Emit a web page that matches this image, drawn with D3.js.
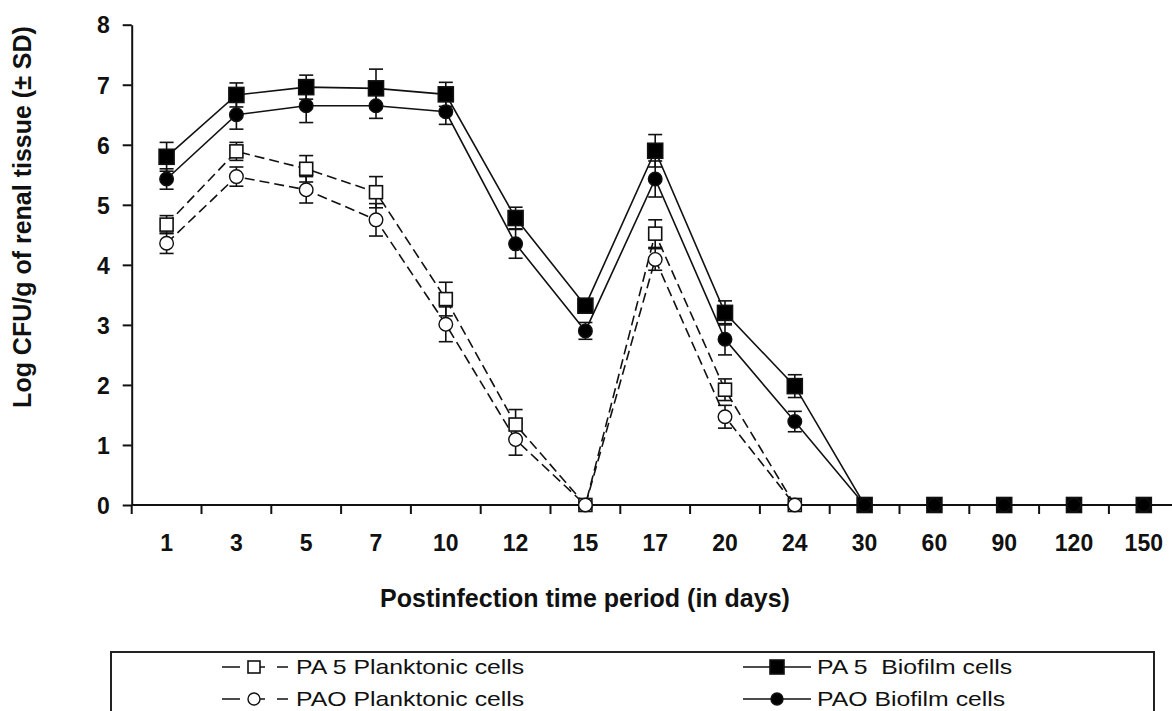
<!DOCTYPE html>
<html>
<head>
<meta charset="utf-8">
<script src="https://cdn.jsdelivr.net/npm/d3@7"></script>
<style>
  body { margin: 0; background: #fff; }
  svg { display: block; font-family: "Liberation Sans", Arial, sans-serif; }
</style>
</head>
<body>
<script>
// dias post-infeccion (categorias del eje x)
var days = ["1", "3", "5", "7", "10", "12", "15", "17", "20", "24", "30", "60", "90", "120", "150"]

// Log CFU/g y desviacion estandar
var pa5Bio     = [5.80, 6.83, 6.96, 6.94, 6.84, 4.78, 3.32, 5.90, 3.20, 1.98, 0, 0, 0, 0, 0]
var pa5BioSD   = [0.24, 0.20, 0.20, 0.32, 0.20, 0.18, 0.10, 0.27, 0.20, 0.19, 0, 0, 0, 0, 0]
var paoBio     = [5.43, 6.50, 6.65, 6.65, 6.55, 4.35, 2.90, 5.43, 2.76, 1.39, 0, 0, 0, 0, 0]
var paoBioSD   = [0.17, 0.24, 0.28, 0.21, 0.21, 0.24, 0.14, 0.30, 0.26, 0.17, 0, 0, 0, 0, 0]
var pa5Plank   = [4.67, 5.89, 5.60, 5.21, 3.43, 1.34, 0, 4.52, 1.92, 0, 0, 0, 0, 0, 0]
var pa5PlankSD = [0.15, 0.15, 0.22, 0.26, 0.28, 0.25, 0, 0.23, 0.18, 0, 0, 0, 0, 0, 0]
var paoPlank   = [4.36, 5.47, 5.25, 4.75, 3.01, 1.09, 0, 4.09, 1.47, 0, 0, 0, 0, 0, 0]
var paoPlankSD = [0.17, 0.16, 0.22, 0.27, 0.29, 0.26, 0, 0.18, 0.19, 0, 0, 0, 0, 0, 0]

var yTicks = [0, 1, 2, 3, 4, 5, 6, 7, 8]
var xTitle = "Postinfection time period (in days)"
var yTitle = "Log CFU/g of renal tissue (\u00b1 SD)"

// series: primero las planctonicas para que los marcadores rellenos queden encima
var series = [
  {name: "PA 5 Planktonic cells", vals: pa5Plank, sd: pa5PlankSD, shape: "square", fill: "#fff", dash: "10,5"},
  {name: "PAO Planktonic cells",  vals: paoPlank, sd: paoPlankSD, shape: "circle", fill: "#fff", dash: "10,5"},
  {name: "PA 5  Biofilm cells",   vals: pa5Bio,   sd: pa5BioSD,   shape: "square", fill: "#000", dash: null},
  {name: "PAO Biofilm cells",     vals: paoBio,   sd: paoBioSD,   shape: "circle", fill: "#000", dash: null}
]

var W = 1172, H = 711
var ink = "#111"

var svg = d3.select("body").append("svg")
    .attr("width", W)
    .attr("height", H)

// ESCALAS
var x = d3.scaleBand()
    .domain(days)
    .range([131.7, 131.7 + 15 * 69.8])
    .padding(0)

var y = d3.scaleLinear()
    .domain([0, 8])
    .range([505, 24.7])

// EJE Y
var yAxis = svg.append("g")
    .attr("transform", "translate(131.7,0)")
    .call(d3.axisLeft(y).tickValues(yTicks).tickFormat(d3.format("d"))
        .tickSize(9).tickSizeOuter(0).tickPadding(13))
yAxis.select(".domain").attr("stroke", ink).attr("stroke-width", 2)
yAxis.selectAll(".tick line").attr("stroke", ink).attr("stroke-width", 2)
yAxis.selectAll(".tick text")
    .attr("fill", ink)
    .style("font-size", "23px")
    .style("font-weight", "bold")
    .attr("dy", "0.36em")

// EJE X: linea y marcas en los limites de cada categoria
var xAxis = svg.append("g").attr("transform", "translate(0," + y(0) + ")")
xAxis.append("line")
    .attr("x1", x.range()[0]).attr("x2", x.range()[1])
    .attr("stroke", ink).attr("stroke-width", 2)
xAxis.selectAll("line.tk")
    .data(days.concat(["end"]))
    .enter()
    .append("line")
    .attr("class", "tk")
    .attr("x1", d => d == "end" ? x.range()[1] : x(d))
    .attr("x2", d => d == "end" ? x.range()[1] : x(d))
    .attr("y1", 0).attr("y2", 9)
    .attr("stroke", ink).attr("stroke-width", 2)
xAxis.selectAll("text")
    .data(days)
    .enter()
    .append("text")
    .attr("x", d => x(d) + x.bandwidth() / 2)
    .attr("y", 46)
    .attr("text-anchor", "middle")
    .attr("fill", ink)
    .style("font-size", "23px")
    .style("font-weight", "bold")
    .text(d => d)

// TITULOS DE LOS EJES
svg.append("text")
    .attr("x", 585)
    .attr("y", 607)
    .attr("text-anchor", "middle")
    .attr("fill", ink)
    .style("font-size", "25px")
    .style("font-weight", "bold")
    .text(xTitle)

svg.append("text")
    .attr("transform", "translate(31,217) rotate(-90)")
    .attr("text-anchor", "middle")
    .attr("fill", ink)
    .style("font-size", "25px")
    .style("font-weight", "bold")
    .text(yTitle)

var cx = (d, i) => x(days[i]) + x.bandwidth() / 2

// 1. BARRAS DE ERROR
series.forEach(function (s) {
  var g = svg.append("g").attr("stroke", ink).attr("stroke-width", 1.6)
  var pts = s.vals.map((v, i) => ({v: v, sd: s.sd[i], i: i})).filter(p => p.sd > 0)
  g.selectAll("line.v").data(pts).enter().append("line")
      .attr("x1", p => cx(p, p.i)).attr("x2", p => cx(p, p.i))
      .attr("y1", p => y(p.v - p.sd)).attr("y2", p => y(p.v + p.sd))
  g.selectAll("line.top").data(pts).enter().append("line")
      .attr("x1", p => cx(p, p.i) - 7).attr("x2", p => cx(p, p.i) + 7)
      .attr("y1", p => y(p.v + p.sd)).attr("y2", p => y(p.v + p.sd))
  g.selectAll("line.bot").data(pts).enter().append("line")
      .attr("x1", p => cx(p, p.i) - 7).attr("x2", p => cx(p, p.i) + 7)
      .attr("y1", p => y(p.v - p.sd)).attr("y2", p => y(p.v - p.sd))
})

// 2. LINEAS
var line = d3.line()
    .x((d, i) => cx(d, i))
    .y(d => y(d))

series.forEach(function (s) {
  svg.append("path")
      .datum(s.vals)
      .attr("d", line)
      .attr("fill", "none")
      .attr("stroke", ink)
      .attr("stroke-width", 1.6)
      .attr("stroke-dasharray", s.dash)
})

// 3. MARCADORES
function marker(g, s, big) {
  if (s.shape == "square") {
    var h = s.fill == "#000" ? (big ? 15 : 14) : (big ? 13 : 12)
    return g.append("rect")
        .attr("x", -h / 2).attr("y", -h / 2)
        .attr("width", h).attr("height", h)
        .attr("fill", s.fill).attr("stroke", ink).attr("stroke-width", 1.6)
  }
  return g.append("circle")
      .attr("r", big ? 6.8 : 6)
      .attr("fill", s.fill).attr("stroke", ink).attr("stroke-width", 1.4)
}

series.forEach(function (s) {
  svg.append("g")
      .selectAll("g")
      .data(s.vals)
      .enter()
      .append("g")
      .attr("transform", (d, i) => "translate(" + cx(d, i) + "," + y(d) + ")")
      .each(function () { marker(d3.select(this), s, true) })
})

// 4. LEYENDA
svg.append("rect")
    .attr("x", 111).attr("y", 652)
    .attr("width", 1043).attr("height", 80)
    .attr("fill", "none")
    .attr("stroke", "#222")
    .attr("stroke-width", 2)

var legPos = [
  {x1: 222, x2: 288, mx: 254, tx: 296, ty: 674},
  {x1: 222, x2: 288, mx: 254, tx: 296, ty: 706},
  {x1: 743, x2: 811, mx: 777, tx: 817, ty: 674},
  {x1: 743, x2: 811, mx: 777, tx: 817, ty: 706}
]

series.forEach(function (s, k) {
  var p = legPos[k]
  var g = svg.append("g")
  g.append("line")
      .attr("x1", p.x1).attr("x2", p.x2)
      .attr("y1", p.ty - 7).attr("y2", p.ty - 7)
      .attr("stroke", ink).attr("stroke-width", 1.6)
      .attr("stroke-dasharray", s.dash ? "18,8,17,12,11" : null)
  var m = g.append("g").attr("transform", "translate(" + p.mx + "," + (p.ty - 7) + ")")
  marker(m, s, false)
  g.append("text")
      .attr("transform", "translate(" + p.tx + "," + p.ty + ") scale(1.24,1)")
      .attr("fill", ink)
      .style("font-size", "20px")
      .style("white-space", "pre")
      .text(s.name)
})
</script>
</body>
</html>
